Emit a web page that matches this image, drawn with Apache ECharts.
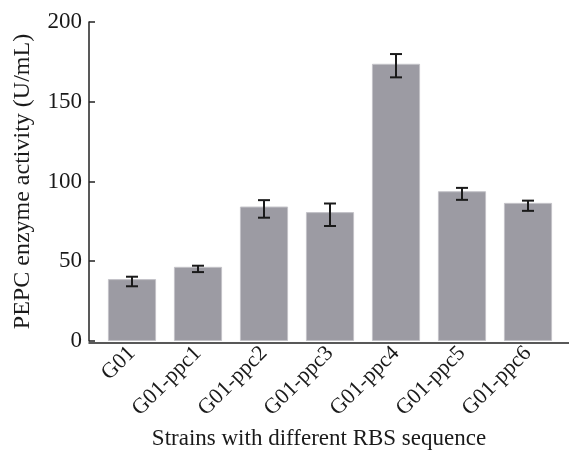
<!DOCTYPE html>
<html>
<head>
<meta charset="utf-8">
<script src="https://cdn.jsdelivr.net/npm/echarts@6/dist/echarts.min.js"></script>
<style>
  html, body { margin: 0; padding: 0; background: #fff; }
  #chart { width: 569px; height: 455px; }
</style>
</head>
<body>
<div id="chart"></div>
<script>
const strains = ['G01', 'G01-ppc1', 'G01-ppc2', 'G01-ppc3', 'G01-ppc4', 'G01-ppc5', 'G01-ppc6'];
const activity = [38.8, 46.5, 84.3, 80.8, 173.8, 93.9, 86.6];
const errLow = [34.3, 43.2, 77.3, 72.1, 165.3, 88.5, 81.6];
const errHigh = [40.3, 47.2, 88.3, 86.2, 179.9, 96.0, 88.0];
const yTicks = [0, 50, 100, 150, 200];

const font = 'Liberation Serif';
const chart = echarts.init(document.getElementById('chart'));

const errData = strains.map((s, i) => [i, errLow[i], errHigh[i]]);

chart.setOption({
    animation: false,
    textStyle: { fontFamily: font },
    grid: [
        { left: 99, width: 462, top: 22, bottom: 112 },
        { left: 89, right: 0, top: 22, bottom: 112 }
    ],
    xAxis: [
        {
            type: 'category',
            data: strains,
            gridIndex: 0,
            axisLine: { show: false },
            axisTick: { show: false },
            axisLabel: {
                rotate: 45,
                interval: 0,
                margin: 9,
                color: '#1a1a1a',
                fontFamily: font,
                fontSize: 22
            },
            name: 'Strains with different RBS sequence',
            nameLocation: 'middle',
            nameGap: 84,
            nameTextStyle: { color: '#1a1a1a', fontFamily: font, fontSize: 23, padding: [0, 22, 0, 0] }
        },
        {
            type: 'value',
            gridIndex: 1,
            axisLine: { show: true, lineStyle: { color: '#222', width: 1.5 } },
            axisTick: { show: false },
            axisLabel: { show: false },
            splitLine: { show: false }
        }
    ],
    yAxis: [
        {
            type: 'value',
            gridIndex: 0,
            min: yTicks[0],
            max: yTicks[yTicks.length - 1],
            interval: 50,
            offset: 10,
            axisLine: { show: true, lineStyle: { color: '#222', width: 1.5 } },
            axisTick: { show: true, inside: true, length: 6, lineStyle: { color: '#222', width: 1.5 } },
            splitLine: { show: false },
            axisLabel: { color: '#1a1a1a', fontFamily: font, fontSize: 23, margin: 7 },
            name: 'PEPC enzyme activity (U/mL)',
            nameLocation: 'middle',
            nameGap: 54,
            nameTextStyle: { color: '#1a1a1a', fontFamily: font, fontSize: 24 }
        },
        { type: 'value', gridIndex: 1, show: false }
    ],
    series: [
        {
            type: 'bar',
            data: activity,
            xAxisIndex: 0,
            yAxisIndex: 0,
            barCategoryGap: '27%',
            itemStyle: { color: '#9c9ba3', borderColor: '#c4c3c8', borderWidth: 1 }
        },
        {
            type: 'custom',
            xAxisIndex: 0,
            yAxisIndex: 0,
            data: errData,
            z: 5,
            renderItem: function (params, api) {
                const x = api.value(0);
                const lo = api.coord([x, api.value(1)]);
                const hi = api.coord([x, api.value(2)]);
                const hw = 6;
                const style = { stroke: '#1a1a1a', lineWidth: 2 };
                return {
                    type: 'group',
                    children: [
                        { type: 'line', shape: { x1: hi[0], y1: hi[1], x2: lo[0], y2: lo[1] }, style: style },
                        { type: 'line', shape: { x1: hi[0] - hw, y1: hi[1], x2: hi[0] + hw, y2: hi[1] }, style: style },
                        { type: 'line', shape: { x1: lo[0] - hw, y1: lo[1], x2: lo[0] + hw, y2: lo[1] }, style: style }
                    ]
                };
            }
        }
    ]
});

window.addEventListener('resize', () => {
    chart.resize();
});
</script>
</body>
</html>
